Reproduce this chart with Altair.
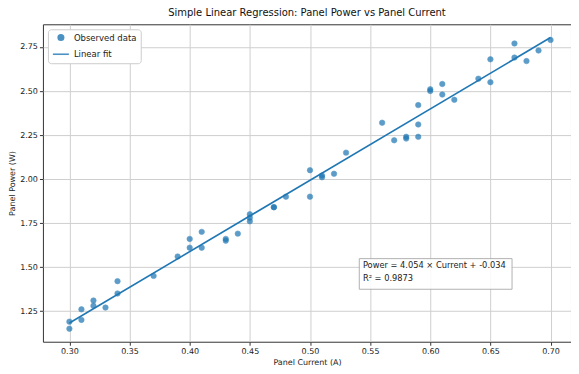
import altair as alt
import pandas as pd

# Observed data (Panel Current in A, Panel Power in W)
current = [0.30, 0.30, 0.31, 0.31, 0.32, 0.32, 0.33, 0.34, 0.34, 0.37,
           0.39, 0.40, 0.40, 0.41, 0.41, 0.43, 0.43, 0.44, 0.45, 0.45,
           0.45, 0.47, 0.47, 0.48, 0.50, 0.50, 0.51, 0.51, 0.52, 0.53,
           0.56, 0.57, 0.58, 0.58, 0.59, 0.59, 0.59, 0.60, 0.60, 0.61,
           0.61, 0.62, 0.64, 0.65, 0.65, 0.67, 0.67, 0.68, 0.69, 0.70]
power = [1.19, 1.15, 1.26, 1.20, 1.31, 1.28, 1.27, 1.42, 1.35, 1.45,
         1.56, 1.66, 1.61, 1.70, 1.61, 1.66, 1.65, 1.69, 1.80, 1.78,
         1.76, 1.84, 1.84, 1.90, 2.05, 1.90, 2.02, 2.01, 2.03, 2.15,
         2.32, 2.22, 2.24, 2.23, 2.42, 2.31, 2.24, 2.51, 2.50, 2.54,
         2.48, 2.45, 2.57, 2.68, 2.55, 2.77, 2.69, 2.67, 2.73, 2.79]

series_names = ["Observed data", "Linear fit"]
x_ticks = [0.30, 0.35, 0.40, 0.45, 0.50, 0.55, 0.60, 0.65, 0.70]
y_ticks = [1.25, 1.50, 1.75, 2.00, 2.25, 2.50, 2.75]
annotation_text = ["Power = 4.054 × Current + -0.034", "R² = 0.9873"]

BLUE = "#1f77b4"
FONT = "DejaVu Sans"

df = pd.DataFrame({"current": current, "power": power})
df["series"] = series_names[0]

x_scale = alt.Scale(domain=[0.278, 0.717], nice=False, zero=False)
y_scale = alt.Scale(domain=[1.076, 2.879], nice=False, zero=False)

x_enc = alt.X("current:Q", scale=x_scale, title="Panel Current (A)",
              axis=alt.Axis(values=x_ticks, format=".2f"))
y_enc = alt.Y("power:Q", scale=y_scale, title="Panel Power (W)",
              axis=alt.Axis(values=y_ticks, format=".2f"))

legend = alt.Legend(title=None, orient="top-left", offset=5,
                    fillColor="white", strokeColor="#cccccc", cornerRadius=3,
                    padding=4, labelFontSize=8.5, labelFont=FONT, labelColor="#222",
                    rowPadding=1, symbolStrokeWidth=1.6, symbolOpacity=0.8)

sc = lambda rng: alt.Scale(domain=series_names, range=rng)
color = alt.Color("series:N", scale=sc([BLUE, BLUE]), legend=legend)
stroke = alt.Stroke("series:N", scale=sc([BLUE, BLUE]), legend=legend)
shape = alt.Shape("series:N", scale=sc(["circle", "stroke"]), legend=legend)
size = alt.Size("series:N", scale=sc([30, 256]), legend=legend)

points = alt.Chart(df).mark_point(filled=True, opacity=0.72, strokeWidth=0.6).encode(
    x=x_enc, y=y_enc, color=color, stroke=stroke, shape=shape, size=size
)

fit = alt.Chart(df).transform_regression(
    "current", "power"
).mark_line(color=BLUE, strokeWidth=1.6).encode(x=x_enc, y=y_enc)

box_df = pd.DataFrame({"x0": [0.541], "x1": [0.668], "y0": [1.374], "y1": [1.548]})
box = alt.Chart(box_df).mark_rect(fill="white", stroke="#aaaaaa", strokeWidth=1,
                                  opacity=0.9).encode(
    x=alt.X("x0:Q", scale=x_scale), x2="x1:Q",
    y=alt.Y("y0:Q", scale=y_scale), y2="y1:Q")

txt_df = pd.DataFrame({"x": [0.544], "y": [1.535], "t": [annotation_text]})
txt = alt.Chart(txt_df).mark_text(align="left", baseline="top", fontSize=8.3,
                                  font=FONT, color="#222", lineHeight=13).encode(
    x=alt.X("x:Q", scale=x_scale), y=alt.Y("y:Q", scale=y_scale), text="t")

chart = alt.layer(points, fit, box, txt).properties(
    width=529, height=318, padding=0,
    title=alt.Title("Simple Linear Regression: Panel Power vs Panel Current",
                    fontSize=10, font=FONT, fontWeight="normal", color="#111", offset=6)
).configure_view(stroke="#333333", strokeWidth=1).configure_axis(
    grid=True, gridColor="#cfcfcf", gridWidth=1,
    domain=False, tickColor="#333", tickSize=3.5,
    labelFont=FONT, labelFontSize=8, labelColor="#222", labelPadding=2,
    titleFont=FONT, titleFontSize=8, titleFontWeight="normal", titleColor="#222",
    titlePadding=3
)

chart.save("out.html", embed_options={"renderer": "svg", "actions": False})
